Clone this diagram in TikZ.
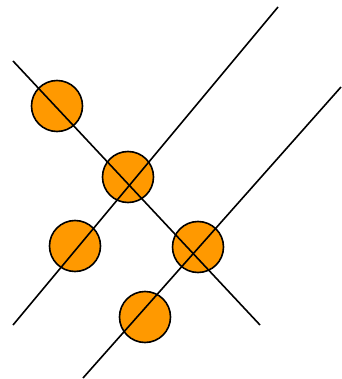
\documentclass[tikz,border=0pt]{standalone}
\definecolor{dotorange}{RGB}{255,153,0}
\begin{document}
\begin{tikzpicture}[x=1pt,y=-1pt,
  dot/.style={circle,draw=black,line width=1.6pt,fill=dotorange,minimum size=51pt,inner sep=0pt},
  wire/.style={draw=black,line width=1.6pt}]
\useasboundingbox (0,0) rectangle (341,379);
\node[dot] (c1) at (57,106) {};
\node[dot] (c2) at (128,177) {};
\node[dot] (c3) at (75,246) {};
\node[dot] (c4) at (198,247) {};
\node[dot] (c5) at (145,317) {};
\coordinate (a1) at (13,61);
\coordinate (a2) at (260,325);
\coordinate (b1) at (13,325);
\coordinate (b2) at (278,7);
\coordinate (d1) at (83,378);
\coordinate (d2) at (341,87);
\draw[wire] (a1) -- (a2);
\draw[wire] (b1) -- (b2);
\draw[wire] (d1) -- (d2);
\end{tikzpicture}
\end{document}
